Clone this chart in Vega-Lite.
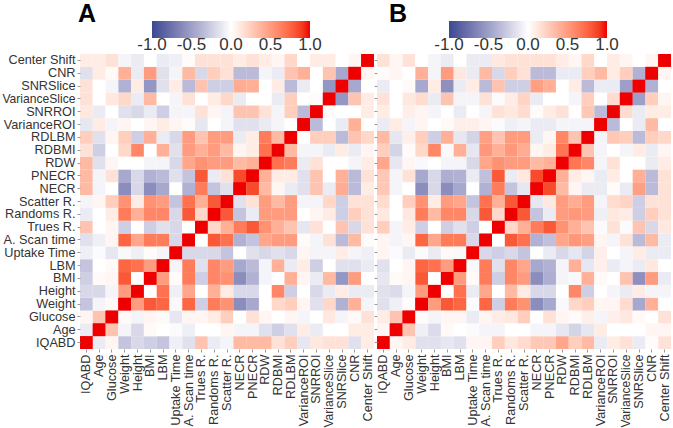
{
"$schema": "https://vega.github.io/schema/vega-lite/v6.json",
"background": "white",
"padding": {"left": 1, "top": 2, "right": 0, "bottom": 0},
"bounds": "flush",
"spacing": 3,
"config": {
  "view": {"stroke": null},
  "font": "Liberation Sans",
  "axis": {"domain": false, "labelFont": "Liberation Sans", "labelFontSize": 12.7, "labelColor": "#333333", "tickColor": "#999999", "tickSize": 3, "labelPadding": 2, "title": null},
  "legend": {"labelOverlap": false},
  "title": {"font": "Liberation Sans"}
},
"datasets": {
"A": [
{"v1":"IQABD","v2":"IQABD","r":1},
{"v1":"Age","v2":"IQABD","r":-0.1},{"v1":"Age","v2":"Age","r":1},
{"v1":"Glucose","v2":"IQABD","r":0.05},{"v1":"Glucose","v2":"Age","r":0.3},{"v1":"Glucose","v2":"Glucose","r":1},
{"v1":"Weight","v2":"IQABD","r":-0.3},{"v1":"Weight","v2":"Age","r":-0.05},{"v1":"Weight","v2":"Glucose","r":0.03},{"v1":"Weight","v2":"Weight","r":1},
{"v1":"Height","v2":"IQABD","r":-0.2},{"v1":"Height","v2":"Age","r":-0.2},{"v1":"Height","v2":"Glucose","r":-0.05},{"v1":"Height","v2":"Weight","r":0.5},{"v1":"Height","v2":"Height","r":1},
{"v1":"BMI","v2":"IQABD","r":-0.25},{"v1":"BMI","v2":"Age","r":0.03},{"v1":"BMI","v2":"Glucose","r":0.05},{"v1":"BMI","v2":"Weight","r":0.8},{"v1":"BMI","v2":"Height","r":0.0},{"v1":"BMI","v2":"BMI","r":1},
{"v1":"LBM","v2":"IQABD","r":-0.3},{"v1":"LBM","v2":"Age","r":0.0},{"v1":"LBM","v2":"Glucose","r":0.03},{"v1":"LBM","v2":"Weight","r":0.75},{"v1":"LBM","v2":"Height","r":0.7},{"v1":"LBM","v2":"BMI","r":0.5},{"v1":"LBM","v2":"LBM","r":1},
{"v1":"Uptake Time","v2":"IQABD","r":-0.08},{"v1":"Uptake Time","v2":"Age","r":-0.02},{"v1":"Uptake Time","v2":"Glucose","r":-0.12},{"v1":"Uptake Time","v2":"Weight","r":-0.03},{"v1":"Uptake Time","v2":"Height","r":-0.08},{"v1":"Uptake Time","v2":"BMI","r":0.02},{"v1":"Uptake Time","v2":"LBM","r":-0.05},{"v1":"Uptake Time","v2":"Uptake Time","r":1},
{"v1":"A. Scan time","v2":"IQABD","r":-0.15},{"v1":"A. Scan time","v2":"Age","r":-0.08},{"v1":"A. Scan time","v2":"Glucose","r":0.05},{"v1":"A. Scan time","v2":"Weight","r":0.75},{"v1":"A. Scan time","v2":"Height","r":0.45},{"v1":"A. Scan time","v2":"BMI","r":0.65},{"v1":"A. Scan time","v2":"LBM","r":0.65},{"v1":"A. Scan time","v2":"Uptake Time","r":-0.2},{"v1":"A. Scan time","v2":"A. Scan time","r":1},
{"v1":"Trues R.","v2":"IQABD","r":0.3},{"v1":"Trues R.","v2":"Age","r":0.0},{"v1":"Trues R.","v2":"Glucose","r":0.05},{"v1":"Trues R.","v2":"Weight","r":-0.25},{"v1":"Trues R.","v2":"Height","r":0.0},{"v1":"Trues R.","v2":"BMI","r":-0.25},{"v1":"Trues R.","v2":"LBM","r":-0.15},{"v1":"Trues R.","v2":"Uptake Time","r":-0.2},{"v1":"Trues R.","v2":"A. Scan time","r":0.0},{"v1":"Trues R.","v2":"Trues R.","r":1},
{"v1":"Randoms R.","v2":"IQABD","r":-0.1},{"v1":"Randoms R.","v2":"Age","r":0.0},{"v1":"Randoms R.","v2":"Glucose","r":0.1},{"v1":"Randoms R.","v2":"Weight","r":0.65},{"v1":"Randoms R.","v2":"Height","r":0.4},{"v1":"Randoms R.","v2":"BMI","r":0.6},{"v1":"Randoms R.","v2":"LBM","r":0.6},{"v1":"Randoms R.","v2":"Uptake Time","r":-0.2},{"v1":"Randoms R.","v2":"A. Scan time","r":0.8},{"v1":"Randoms R.","v2":"Trues R.","r":0.2},{"v1":"Randoms R.","v2":"Randoms R.","r":1},
{"v1":"Scatter R.","v2":"IQABD","r":-0.05},{"v1":"Scatter R.","v2":"Age","r":0.05},{"v1":"Scatter R.","v2":"Glucose","r":0.25},{"v1":"Scatter R.","v2":"Weight","r":0.55},{"v1":"Scatter R.","v2":"Height","r":0.1},{"v1":"Scatter R.","v2":"BMI","r":0.55},{"v1":"Scatter R.","v2":"LBM","r":0.5},{"v1":"Scatter R.","v2":"Uptake Time","r":-0.3},{"v1":"Scatter R.","v2":"A. Scan time","r":0.7},{"v1":"Scatter R.","v2":"Trues R.","r":0.4},{"v1":"Scatter R.","v2":"Randoms R.","r":0.8},{"v1":"Scatter R.","v2":"Scatter R.","r":1},
{"v1":"NECR","v2":"IQABD","r":0.35},{"v1":"NECR","v2":"Age","r":-0.05},{"v1":"NECR","v2":"Glucose","r":0.0},{"v1":"NECR","v2":"Weight","r":-0.6},{"v1":"NECR","v2":"Height","r":-0.2},{"v1":"NECR","v2":"BMI","r":-0.6},{"v1":"NECR","v2":"LBM","r":-0.45},{"v1":"NECR","v2":"Uptake Time","r":0.0},{"v1":"NECR","v2":"A. Scan time","r":-0.4},{"v1":"NECR","v2":"Trues R.","r":0.65},{"v1":"NECR","v2":"Randoms R.","r":-0.3},{"v1":"NECR","v2":"Scatter R.","r":-0.15},{"v1":"NECR","v2":"NECR","r":1},
{"v1":"PNECR","v2":"IQABD","r":0.35},{"v1":"PNECR","v2":"Age","r":-0.05},{"v1":"PNECR","v2":"Glucose","r":0.15},{"v1":"PNECR","v2":"Weight","r":-0.45},{"v1":"PNECR","v2":"Height","r":-0.2},{"v1":"PNECR","v2":"BMI","r":-0.4},{"v1":"PNECR","v2":"LBM","r":-0.35},{"v1":"PNECR","v2":"Uptake Time","r":-0.15},{"v1":"PNECR","v2":"A. Scan time","r":-0.3},{"v1":"PNECR","v2":"Trues R.","r":0.8},{"v1":"PNECR","v2":"Randoms R.","r":-0.1},{"v1":"PNECR","v2":"Scatter R.","r":0.15},{"v1":"PNECR","v2":"NECR","r":0.85},{"v1":"PNECR","v2":"PNECR","r":1},
{"v1":"RDW","v2":"IQABD","r":0.35},{"v1":"RDW","v2":"Age","r":-0.15},{"v1":"RDW","v2":"Glucose","r":0.05},{"v1":"RDW","v2":"Weight","r":0.0},{"v1":"RDW","v2":"Height","r":0.0},{"v1":"RDW","v2":"BMI","r":-0.05},{"v1":"RDW","v2":"LBM","r":-0.05},{"v1":"RDW","v2":"Uptake Time","r":-0.2},{"v1":"RDW","v2":"A. Scan time","r":0.45},{"v1":"RDW","v2":"Trues R.","r":0.55},{"v1":"RDW","v2":"Randoms R.","r":0.5},{"v1":"RDW","v2":"Scatter R.","r":0.5},{"v1":"RDW","v2":"NECR","r":0.35},{"v1":"RDW","v2":"PNECR","r":0.4},{"v1":"RDW","v2":"RDW","r":1},
{"v1":"RDBMI","v2":"IQABD","r":0.15},{"v1":"RDBMI","v2":"Age","r":-0.25},{"v1":"RDBMI","v2":"Glucose","r":0.0},{"v1":"RDBMI","v2":"Weight","r":0.2},{"v1":"RDBMI","v2":"Height","r":0.6},{"v1":"RDBMI","v2":"BMI","r":0.0},{"v1":"RDBMI","v2":"LBM","r":0.4},{"v1":"RDBMI","v2":"Uptake Time","r":-0.15},{"v1":"RDBMI","v2":"A. Scan time","r":0.5},{"v1":"RDBMI","v2":"Trues R.","r":0.4},{"v1":"RDBMI","v2":"Randoms R.","r":0.5},{"v1":"RDBMI","v2":"Scatter R.","r":0.35},{"v1":"RDBMI","v2":"NECR","r":0.05},{"v1":"RDBMI","v2":"PNECR","r":0.1},{"v1":"RDBMI","v2":"RDW","r":0.7},{"v1":"RDBMI","v2":"RDBMI","r":1},
{"v1":"RDLBM","v2":"IQABD","r":0.25},{"v1":"RDLBM","v2":"Age","r":-0.15},{"v1":"RDLBM","v2":"Glucose","r":0.05},{"v1":"RDLBM","v2":"Weight","r":0.25},{"v1":"RDLBM","v2":"Height","r":-0.25},{"v1":"RDLBM","v2":"BMI","r":0.4},{"v1":"RDLBM","v2":"LBM","r":-0.1},{"v1":"RDLBM","v2":"Uptake Time","r":-0.2},{"v1":"RDLBM","v2":"A. Scan time","r":0.5},{"v1":"RDLBM","v2":"Trues R.","r":0.3},{"v1":"RDLBM","v2":"Randoms R.","r":0.5},{"v1":"RDLBM","v2":"Scatter R.","r":0.5},{"v1":"RDLBM","v2":"NECR","r":-0.1},{"v1":"RDLBM","v2":"PNECR","r":0.1},{"v1":"RDLBM","v2":"RDW","r":0.65},{"v1":"RDLBM","v2":"RDBMI","r":0.35},{"v1":"RDLBM","v2":"RDLBM","r":1},
{"v1":"VarianceROI","v2":"IQABD","r":-0.12},{"v1":"VarianceROI","v2":"Age","r":0.1},{"v1":"VarianceROI","v2":"Glucose","r":-0.05},{"v1":"VarianceROI","v2":"Weight","r":0.05},{"v1":"VarianceROI","v2":"Height","r":0.0},{"v1":"VarianceROI","v2":"BMI","r":0.05},{"v1":"VarianceROI","v2":"LBM","r":0.1},{"v1":"VarianceROI","v2":"Uptake Time","r":0.05},{"v1":"VarianceROI","v2":"A. Scan time","r":0.02},{"v1":"VarianceROI","v2":"Trues R.","r":-0.12},{"v1":"VarianceROI","v2":"Randoms R.","r":0.0},{"v1":"VarianceROI","v2":"Scatter R.","r":-0.05},{"v1":"VarianceROI","v2":"NECR","r":-0.15},{"v1":"VarianceROI","v2":"PNECR","r":-0.15},{"v1":"VarianceROI","v2":"RDW","r":-0.1},{"v1":"VarianceROI","v2":"RDBMI","r":-0.05},{"v1":"VarianceROI","v2":"RDLBM","r":0.0},{"v1":"VarianceROI","v2":"VarianceROI","r":1},
{"v1":"SNRROI","v2":"IQABD","r":0.12},{"v1":"SNRROI","v2":"Age","r":-0.1},{"v1":"SNRROI","v2":"Glucose","r":0.0},{"v1":"SNRROI","v2":"Weight","r":-0.15},{"v1":"SNRROI","v2":"Height","r":-0.2},{"v1":"SNRROI","v2":"BMI","r":-0.1},{"v1":"SNRROI","v2":"LBM","r":-0.25},{"v1":"SNRROI","v2":"Uptake Time","r":-0.05},{"v1":"SNRROI","v2":"A. Scan time","r":-0.05},{"v1":"SNRROI","v2":"Trues R.","r":0.15},{"v1":"SNRROI","v2":"Randoms R.","r":0.05},{"v1":"SNRROI","v2":"Scatter R.","r":-0.05},{"v1":"SNRROI","v2":"NECR","r":0.3},{"v1":"SNRROI","v2":"PNECR","r":0.3},{"v1":"SNRROI","v2":"RDW","r":0.15},{"v1":"SNRROI","v2":"RDBMI","r":-0.05},{"v1":"SNRROI","v2":"RDLBM","r":0.25},{"v1":"SNRROI","v2":"VarianceROI","r":-0.35},{"v1":"SNRROI","v2":"SNRROI","r":1},
{"v1":"VarianceSlice","v2":"IQABD","r":0.15},{"v1":"VarianceSlice","v2":"Age","r":0.0},{"v1":"VarianceSlice","v2":"Glucose","r":0.12},{"v1":"VarianceSlice","v2":"Weight","r":0.2},{"v1":"VarianceSlice","v2":"Height","r":-0.1},{"v1":"VarianceSlice","v2":"BMI","r":0.35},{"v1":"VarianceSlice","v2":"LBM","r":0.0},{"v1":"VarianceSlice","v2":"Uptake Time","r":-0.05},{"v1":"VarianceSlice","v2":"A. Scan time","r":0.15},{"v1":"VarianceSlice","v2":"Trues R.","r":0.0},{"v1":"VarianceSlice","v2":"Randoms R.","r":0.1},{"v1":"VarianceSlice","v2":"Scatter R.","r":0.2},{"v1":"VarianceSlice","v2":"NECR","r":-0.1},{"v1":"VarianceSlice","v2":"PNECR","r":0.0},{"v1":"VarianceSlice","v2":"RDW","r":0.0},{"v1":"VarianceSlice","v2":"RDBMI","r":-0.1},{"v1":"VarianceSlice","v2":"RDLBM","r":0.25},{"v1":"VarianceSlice","v2":"VarianceROI","r":0.0},{"v1":"VarianceSlice","v2":"SNRROI","r":0.02},{"v1":"VarianceSlice","v2":"VarianceSlice","r":1},
{"v1":"SNRSlice","v2":"IQABD","r":0.15},{"v1":"SNRSlice","v2":"Age","r":0.0},{"v1":"SNRSlice","v2":"Glucose","r":-0.05},{"v1":"SNRSlice","v2":"Weight","r":-0.4},{"v1":"SNRSlice","v2":"Height","r":0.1},{"v1":"SNRSlice","v2":"BMI","r":-0.55},{"v1":"SNRSlice","v2":"LBM","r":-0.15},{"v1":"SNRSlice","v2":"Uptake Time","r":0.1},{"v1":"SNRSlice","v2":"A. Scan time","r":-0.35},{"v1":"SNRSlice","v2":"Trues R.","r":0.3},{"v1":"SNRSlice","v2":"Randoms R.","r":-0.25},{"v1":"SNRSlice","v2":"Scatter R.","r":-0.25},{"v1":"SNRSlice","v2":"NECR","r":0.42},{"v1":"SNRSlice","v2":"PNECR","r":0.4},{"v1":"SNRSlice","v2":"RDW","r":0.0},{"v1":"SNRSlice","v2":"RDBMI","r":0.1},{"v1":"SNRSlice","v2":"RDLBM","r":-0.35},{"v1":"SNRSlice","v2":"VarianceROI","r":-0.1},{"v1":"SNRSlice","v2":"SNRROI","r":0.0},{"v1":"SNRSlice","v2":"VarianceSlice","r":-0.55},{"v1":"SNRSlice","v2":"SNRSlice","r":1},
{"v1":"CNR","v2":"IQABD","r":-0.15},{"v1":"CNR","v2":"Age","r":0.1},{"v1":"CNR","v2":"Glucose","r":0.03},{"v1":"CNR","v2":"Weight","r":0.4},{"v1":"CNR","v2":"Height","r":-0.1},{"v1":"CNR","v2":"BMI","r":0.5},{"v1":"CNR","v2":"LBM","r":-0.15},{"v1":"CNR","v2":"Uptake Time","r":-0.05},{"v1":"CNR","v2":"A. Scan time","r":0.35},{"v1":"CNR","v2":"Trues R.","r":-0.2},{"v1":"CNR","v2":"Randoms R.","r":0.25},{"v1":"CNR","v2":"Scatter R.","r":0.15},{"v1":"CNR","v2":"NECR","r":-0.35},{"v1":"CNR","v2":"PNECR","r":-0.35},{"v1":"CNR","v2":"RDW","r":-0.05},{"v1":"CNR","v2":"RDBMI","r":-0.1},{"v1":"CNR","v2":"RDLBM","r":0.3},{"v1":"CNR","v2":"VarianceROI","r":0.4},{"v1":"CNR","v2":"SNRROI","r":0.0},{"v1":"CNR","v2":"VarianceSlice","r":0.3},{"v1":"CNR","v2":"SNRSlice","r":-0.45},{"v1":"CNR","v2":"CNR","r":1},
{"v1":"Center Shift","v2":"IQABD","r":0.1},{"v1":"Center Shift","v2":"Age","r":0.1},{"v1":"Center Shift","v2":"Glucose","r":0.15},{"v1":"Center Shift","v2":"Weight","r":-0.05},{"v1":"Center Shift","v2":"Height","r":-0.1},{"v1":"Center Shift","v2":"BMI","r":0.0},{"v1":"Center Shift","v2":"LBM","r":-0.1},{"v1":"Center Shift","v2":"Uptake Time","r":-0.08},{"v1":"Center Shift","v2":"A. Scan time","r":0.02},{"v1":"Center Shift","v2":"Trues R.","r":0.15},{"v1":"Center Shift","v2":"Randoms R.","r":0.15},{"v1":"Center Shift","v2":"Scatter R.","r":0.15},{"v1":"Center Shift","v2":"NECR","r":0.1},{"v1":"Center Shift","v2":"PNECR","r":0.15},{"v1":"Center Shift","v2":"RDW","r":0.1},{"v1":"Center Shift","v2":"RDBMI","r":0.05},{"v1":"Center Shift","v2":"RDLBM","r":0.2},{"v1":"Center Shift","v2":"VarianceROI","r":0.0},{"v1":"Center Shift","v2":"SNRROI","r":0.1},{"v1":"Center Shift","v2":"VarianceSlice","r":0.1},{"v1":"Center Shift","v2":"SNRSlice","r":0.0},{"v1":"Center Shift","v2":"CNR","r":0.05},{"v1":"Center Shift","v2":"Center Shift","r":1}
],
"B": [
{"v1":"IQABD","v2":"IQABD","r":1},
{"v1":"Age","v2":"IQABD","r":0.05},{"v1":"Age","v2":"Age","r":1},
{"v1":"Glucose","v2":"IQABD","r":0.1},{"v1":"Glucose","v2":"Age","r":0.3},{"v1":"Glucose","v2":"Glucose","r":1},
{"v1":"Weight","v2":"IQABD","r":-0.15},{"v1":"Weight","v2":"Age","r":-0.08},{"v1":"Weight","v2":"Glucose","r":0.02},{"v1":"Weight","v2":"Weight","r":1},
{"v1":"Height","v2":"IQABD","r":-0.15},{"v1":"Height","v2":"Age","r":-0.18},{"v1":"Height","v2":"Glucose","r":-0.05},{"v1":"Height","v2":"Weight","r":0.5},{"v1":"Height","v2":"Height","r":1},
{"v1":"BMI","v2":"IQABD","r":-0.12},{"v1":"BMI","v2":"Age","r":0.03},{"v1":"BMI","v2":"Glucose","r":0.05},{"v1":"BMI","v2":"Weight","r":0.8},{"v1":"BMI","v2":"Height","r":0.0},{"v1":"BMI","v2":"BMI","r":1},
{"v1":"LBM","v2":"IQABD","r":-0.15},{"v1":"LBM","v2":"Age","r":0.0},{"v1":"LBM","v2":"Glucose","r":0.05},{"v1":"LBM","v2":"Weight","r":0.75},{"v1":"LBM","v2":"Height","r":0.7},{"v1":"LBM","v2":"BMI","r":0.5},{"v1":"LBM","v2":"LBM","r":1},
{"v1":"Uptake Time","v2":"IQABD","r":0.05},{"v1":"Uptake Time","v2":"Age","r":-0.02},{"v1":"Uptake Time","v2":"Glucose","r":-0.1},{"v1":"Uptake Time","v2":"Weight","r":-0.02},{"v1":"Uptake Time","v2":"Height","r":-0.1},{"v1":"Uptake Time","v2":"BMI","r":0.03},{"v1":"Uptake Time","v2":"LBM","r":-0.03},{"v1":"Uptake Time","v2":"Uptake Time","r":1},
{"v1":"A. Scan time","v2":"IQABD","r":0.05},{"v1":"A. Scan time","v2":"Age","r":-0.05},{"v1":"A. Scan time","v2":"Glucose","r":0.05},{"v1":"A. Scan time","v2":"Weight","r":0.75},{"v1":"A. Scan time","v2":"Height","r":0.45},{"v1":"A. Scan time","v2":"BMI","r":0.65},{"v1":"A. Scan time","v2":"LBM","r":0.65},{"v1":"A. Scan time","v2":"Uptake Time","r":-0.2},{"v1":"A. Scan time","v2":"A. Scan time","r":1},
{"v1":"Trues R.","v2":"IQABD","r":0.25},{"v1":"Trues R.","v2":"Age","r":-0.05},{"v1":"Trues R.","v2":"Glucose","r":0.1},{"v1":"Trues R.","v2":"Weight","r":-0.25},{"v1":"Trues R.","v2":"Height","r":0.0},{"v1":"Trues R.","v2":"BMI","r":-0.25},{"v1":"Trues R.","v2":"LBM","r":-0.15},{"v1":"Trues R.","v2":"Uptake Time","r":-0.25},{"v1":"Trues R.","v2":"A. Scan time","r":0.0},{"v1":"Trues R.","v2":"Trues R.","r":1},
{"v1":"Randoms R.","v2":"IQABD","r":0.12},{"v1":"Randoms R.","v2":"Age","r":0.0},{"v1":"Randoms R.","v2":"Glucose","r":0.12},{"v1":"Randoms R.","v2":"Weight","r":0.65},{"v1":"Randoms R.","v2":"Height","r":0.35},{"v1":"Randoms R.","v2":"BMI","r":0.6},{"v1":"Randoms R.","v2":"LBM","r":0.6},{"v1":"Randoms R.","v2":"Uptake Time","r":-0.2},{"v1":"Randoms R.","v2":"A. Scan time","r":0.8},{"v1":"Randoms R.","v2":"Trues R.","r":0.2},{"v1":"Randoms R.","v2":"Randoms R.","r":1},
{"v1":"Scatter R.","v2":"IQABD","r":0.18},{"v1":"Scatter R.","v2":"Age","r":0.0},{"v1":"Scatter R.","v2":"Glucose","r":0.25},{"v1":"Scatter R.","v2":"Weight","r":0.55},{"v1":"Scatter R.","v2":"Height","r":0.1},{"v1":"Scatter R.","v2":"BMI","r":0.5},{"v1":"Scatter R.","v2":"LBM","r":0.45},{"v1":"Scatter R.","v2":"Uptake Time","r":-0.3},{"v1":"Scatter R.","v2":"A. Scan time","r":0.7},{"v1":"Scatter R.","v2":"Trues R.","r":0.4},{"v1":"Scatter R.","v2":"Randoms R.","r":0.8},{"v1":"Scatter R.","v2":"Scatter R.","r":1},
{"v1":"NECR","v2":"IQABD","r":0.28},{"v1":"NECR","v2":"Age","r":-0.05},{"v1":"NECR","v2":"Glucose","r":0.0},{"v1":"NECR","v2":"Weight","r":-0.6},{"v1":"NECR","v2":"Height","r":-0.2},{"v1":"NECR","v2":"BMI","r":-0.6},{"v1":"NECR","v2":"LBM","r":-0.45},{"v1":"NECR","v2":"Uptake Time","r":0.0},{"v1":"NECR","v2":"A. Scan time","r":-0.4},{"v1":"NECR","v2":"Trues R.","r":0.65},{"v1":"NECR","v2":"Randoms R.","r":-0.3},{"v1":"NECR","v2":"Scatter R.","r":-0.12},{"v1":"NECR","v2":"NECR","r":1},
{"v1":"PNECR","v2":"IQABD","r":0.28},{"v1":"PNECR","v2":"Age","r":-0.05},{"v1":"PNECR","v2":"Glucose","r":0.15},{"v1":"PNECR","v2":"Weight","r":-0.45},{"v1":"PNECR","v2":"Height","r":-0.2},{"v1":"PNECR","v2":"BMI","r":-0.42},{"v1":"PNECR","v2":"LBM","r":-0.4},{"v1":"PNECR","v2":"Uptake Time","r":-0.1},{"v1":"PNECR","v2":"A. Scan time","r":-0.32},{"v1":"PNECR","v2":"Trues R.","r":0.8},{"v1":"PNECR","v2":"Randoms R.","r":-0.1},{"v1":"PNECR","v2":"Scatter R.","r":0.12},{"v1":"PNECR","v2":"NECR","r":0.85},{"v1":"PNECR","v2":"PNECR","r":1},
{"v1":"RDW","v2":"IQABD","r":0.45},{"v1":"RDW","v2":"Age","r":-0.12},{"v1":"RDW","v2":"Glucose","r":0.05},{"v1":"RDW","v2":"Weight","r":-0.03},{"v1":"RDW","v2":"Height","r":0.0},{"v1":"RDW","v2":"BMI","r":-0.05},{"v1":"RDW","v2":"LBM","r":-0.05},{"v1":"RDW","v2":"Uptake Time","r":-0.2},{"v1":"RDW","v2":"A. Scan time","r":0.45},{"v1":"RDW","v2":"Trues R.","r":0.55},{"v1":"RDW","v2":"Randoms R.","r":0.5},{"v1":"RDW","v2":"Scatter R.","r":0.5},{"v1":"RDW","v2":"NECR","r":0.35},{"v1":"RDW","v2":"PNECR","r":0.4},{"v1":"RDW","v2":"RDW","r":1},
{"v1":"RDBMI","v2":"IQABD","r":0.25},{"v1":"RDBMI","v2":"Age","r":-0.22},{"v1":"RDBMI","v2":"Glucose","r":0.02},{"v1":"RDBMI","v2":"Weight","r":0.2},{"v1":"RDBMI","v2":"Height","r":0.6},{"v1":"RDBMI","v2":"BMI","r":-0.03},{"v1":"RDBMI","v2":"LBM","r":0.4},{"v1":"RDBMI","v2":"Uptake Time","r":-0.12},{"v1":"RDBMI","v2":"A. Scan time","r":0.52},{"v1":"RDBMI","v2":"Trues R.","r":0.4},{"v1":"RDBMI","v2":"Randoms R.","r":0.52},{"v1":"RDBMI","v2":"Scatter R.","r":0.42},{"v1":"RDBMI","v2":"NECR","r":0.05},{"v1":"RDBMI","v2":"PNECR","r":0.1},{"v1":"RDBMI","v2":"RDW","r":0.68},{"v1":"RDBMI","v2":"RDBMI","r":1},
{"v1":"RDLBM","v2":"IQABD","r":0.35},{"v1":"RDLBM","v2":"Age","r":-0.12},{"v1":"RDLBM","v2":"Glucose","r":0.08},{"v1":"RDLBM","v2":"Weight","r":0.25},{"v1":"RDLBM","v2":"Height","r":-0.25},{"v1":"RDLBM","v2":"BMI","r":0.4},{"v1":"RDLBM","v2":"LBM","r":-0.12},{"v1":"RDLBM","v2":"Uptake Time","r":-0.22},{"v1":"RDLBM","v2":"A. Scan time","r":0.48},{"v1":"RDLBM","v2":"Trues R.","r":0.3},{"v1":"RDLBM","v2":"Randoms R.","r":0.5},{"v1":"RDLBM","v2":"Scatter R.","r":0.5},{"v1":"RDLBM","v2":"NECR","r":-0.1},{"v1":"RDLBM","v2":"PNECR","r":0.05},{"v1":"RDLBM","v2":"RDW","r":0.6},{"v1":"RDLBM","v2":"RDBMI","r":0.3},{"v1":"RDLBM","v2":"RDLBM","r":1},
{"v1":"VarianceROI","v2":"IQABD","r":-0.1},{"v1":"VarianceROI","v2":"Age","r":0.1},{"v1":"VarianceROI","v2":"Glucose","r":-0.05},{"v1":"VarianceROI","v2":"Weight","r":0.05},{"v1":"VarianceROI","v2":"Height","r":0.0},{"v1":"VarianceROI","v2":"BMI","r":0.03},{"v1":"VarianceROI","v2":"LBM","r":0.08},{"v1":"VarianceROI","v2":"Uptake Time","r":0.08},{"v1":"VarianceROI","v2":"A. Scan time","r":0.05},{"v1":"VarianceROI","v2":"Trues R.","r":-0.02},{"v1":"VarianceROI","v2":"Randoms R.","r":-0.08},{"v1":"VarianceROI","v2":"Scatter R.","r":-0.05},{"v1":"VarianceROI","v2":"NECR","r":-0.1},{"v1":"VarianceROI","v2":"PNECR","r":-0.1},{"v1":"VarianceROI","v2":"RDW","r":-0.05},{"v1":"VarianceROI","v2":"RDBMI","r":-0.05},{"v1":"VarianceROI","v2":"RDLBM","r":-0.05},{"v1":"VarianceROI","v2":"VarianceROI","r":1},
{"v1":"SNRROI","v2":"IQABD","r":0.1},{"v1":"SNRROI","v2":"Age","r":0.0},{"v1":"SNRROI","v2":"Glucose","r":0.08},{"v1":"SNRROI","v2":"Weight","r":0.05},{"v1":"SNRROI","v2":"Height","r":-0.05},{"v1":"SNRROI","v2":"BMI","r":0.0},{"v1":"SNRROI","v2":"LBM","r":-0.1},{"v1":"SNRROI","v2":"Uptake Time","r":0.0},{"v1":"SNRROI","v2":"A. Scan time","r":-0.05},{"v1":"SNRROI","v2":"Trues R.","r":0.15},{"v1":"SNRROI","v2":"Randoms R.","r":0.12},{"v1":"SNRROI","v2":"Scatter R.","r":0.18},{"v1":"SNRROI","v2":"NECR","r":0.02},{"v1":"SNRROI","v2":"PNECR","r":0.1},{"v1":"SNRROI","v2":"RDW","r":0.15},{"v1":"SNRROI","v2":"RDBMI","r":0.0},{"v1":"SNRROI","v2":"RDLBM","r":0.28},{"v1":"SNRROI","v2":"VarianceROI","r":-0.35},{"v1":"SNRROI","v2":"SNRROI","r":1},
{"v1":"VarianceSlice","v2":"IQABD","r":0.15},{"v1":"VarianceSlice","v2":"Age","r":0.0},{"v1":"VarianceSlice","v2":"Glucose","r":0.12},{"v1":"VarianceSlice","v2":"Weight","r":0.18},{"v1":"VarianceSlice","v2":"Height","r":-0.1},{"v1":"VarianceSlice","v2":"BMI","r":0.3},{"v1":"VarianceSlice","v2":"LBM","r":-0.05},{"v1":"VarianceSlice","v2":"Uptake Time","r":-0.05},{"v1":"VarianceSlice","v2":"A. Scan time","r":0.15},{"v1":"VarianceSlice","v2":"Trues R.","r":-0.02},{"v1":"VarianceSlice","v2":"Randoms R.","r":0.1},{"v1":"VarianceSlice","v2":"Scatter R.","r":0.22},{"v1":"VarianceSlice","v2":"NECR","r":-0.1},{"v1":"VarianceSlice","v2":"PNECR","r":0.0},{"v1":"VarianceSlice","v2":"RDW","r":0.0},{"v1":"VarianceSlice","v2":"RDBMI","r":-0.05},{"v1":"VarianceSlice","v2":"RDLBM","r":0.25},{"v1":"VarianceSlice","v2":"VarianceROI","r":0.0},{"v1":"VarianceSlice","v2":"SNRROI","r":0.18},{"v1":"VarianceSlice","v2":"VarianceSlice","r":1},
{"v1":"SNRSlice","v2":"IQABD","r":-0.1},{"v1":"SNRSlice","v2":"Age","r":0.0},{"v1":"SNRSlice","v2":"Glucose","r":0.03},{"v1":"SNRSlice","v2":"Weight","r":-0.45},{"v1":"SNRSlice","v2":"Height","r":0.1},{"v1":"SNRSlice","v2":"BMI","r":-0.58},{"v1":"SNRSlice","v2":"LBM","r":-0.1},{"v1":"SNRSlice","v2":"Uptake Time","r":0.1},{"v1":"SNRSlice","v2":"A. Scan time","r":-0.35},{"v1":"SNRSlice","v2":"Trues R.","r":0.3},{"v1":"SNRSlice","v2":"Randoms R.","r":-0.25},{"v1":"SNRSlice","v2":"Scatter R.","r":-0.25},{"v1":"SNRSlice","v2":"NECR","r":0.48},{"v1":"SNRSlice","v2":"PNECR","r":0.4},{"v1":"SNRSlice","v2":"RDW","r":0.0},{"v1":"SNRSlice","v2":"RDBMI","r":0.1},{"v1":"SNRSlice","v2":"RDLBM","r":-0.35},{"v1":"SNRSlice","v2":"VarianceROI","r":-0.1},{"v1":"SNRSlice","v2":"SNRROI","r":-0.1},{"v1":"SNRSlice","v2":"VarianceSlice","r":-0.5},{"v1":"SNRSlice","v2":"SNRSlice","r":1},
{"v1":"CNR","v2":"IQABD","r":0.02},{"v1":"CNR","v2":"Age","r":0.05},{"v1":"CNR","v2":"Glucose","r":0.0},{"v1":"CNR","v2":"Weight","r":0.4},{"v1":"CNR","v2":"Height","r":-0.05},{"v1":"CNR","v2":"BMI","r":0.5},{"v1":"CNR","v2":"LBM","r":0.12},{"v1":"CNR","v2":"Uptake Time","r":-0.1},{"v1":"CNR","v2":"A. Scan time","r":0.35},{"v1":"CNR","v2":"Trues R.","r":-0.2},{"v1":"CNR","v2":"Randoms R.","r":0.25},{"v1":"CNR","v2":"Scatter R.","r":0.15},{"v1":"CNR","v2":"NECR","r":-0.35},{"v1":"CNR","v2":"PNECR","r":-0.35},{"v1":"CNR","v2":"RDW","r":-0.1},{"v1":"CNR","v2":"RDBMI","r":-0.1},{"v1":"CNR","v2":"RDLBM","r":0.25},{"v1":"CNR","v2":"VarianceROI","r":0.35},{"v1":"CNR","v2":"SNRROI","r":0.1},{"v1":"CNR","v2":"VarianceSlice","r":0.25},{"v1":"CNR","v2":"SNRSlice","r":-0.4},{"v1":"CNR","v2":"CNR","r":1},
{"v1":"Center Shift","v2":"IQABD","r":0.15},{"v1":"Center Shift","v2":"Age","r":0.05},{"v1":"Center Shift","v2":"Glucose","r":0.15},{"v1":"Center Shift","v2":"Weight","r":0.0},{"v1":"Center Shift","v2":"Height","r":-0.05},{"v1":"Center Shift","v2":"BMI","r":-0.1},{"v1":"Center Shift","v2":"LBM","r":0.0},{"v1":"Center Shift","v2":"Uptake Time","r":-0.1},{"v1":"Center Shift","v2":"A. Scan time","r":-0.1},{"v1":"Center Shift","v2":"Trues R.","r":0.12},{"v1":"Center Shift","v2":"Randoms R.","r":0.15},{"v1":"Center Shift","v2":"Scatter R.","r":0.15},{"v1":"Center Shift","v2":"NECR","r":0.15},{"v1":"Center Shift","v2":"PNECR","r":0.15},{"v1":"Center Shift","v2":"RDW","r":0.1},{"v1":"Center Shift","v2":"RDBMI","r":0.05},{"v1":"Center Shift","v2":"RDLBM","r":0.2},{"v1":"Center Shift","v2":"VarianceROI","r":0.0},{"v1":"Center Shift","v2":"SNRROI","r":0.1},{"v1":"Center Shift","v2":"VarianceSlice","r":0.05},{"v1":"Center Shift","v2":"SNRSlice","r":0.0},{"v1":"Center Shift","v2":"CNR","r":0.05},{"v1":"Center Shift","v2":"Center Shift","r":1}
]
},
"hconcat": [
{
  "width": 294, "height": 295,
  "data": {"name": "A"},
  "title": {"text": "A", "anchor": "start", "frame": "group", "dx": -2, "fontSize": 25, "fontWeight": "bold", "color": "#000000", "offset": -6},
  "layer": [
    {"mark": {"type": "rect"},
     "encoding": {
       "x": {"field": "v2", "type": "nominal", "title": null, "scale": {"domain": ["IQABD","Age","Glucose","Weight","Height","BMI","LBM","Uptake Time","A. Scan time","Trues R.","Randoms R.","Scatter R.","NECR","PNECR","RDW","RDBMI","RDLBM","VarianceROI","SNRROI","VarianceSlice","SNRSlice","CNR","Center Shift"]}, "axis": {"labelAngle": -90, "labelFontSize": {"condition": {"test": "datum.value == 'VarianceSlice'", "value": 12.1}, "value": 12.7}}},
       "y": {"field": "v1", "type": "nominal", "title": null, "scale": {"domain": ["Center Shift","CNR","SNRSlice","VarianceSlice","SNRROI","VarianceROI","RDLBM","RDBMI","RDW","PNECR","NECR","Scatter R.","Randoms R.","Trues R.","A. Scan time","Uptake Time","LBM","BMI","Height","Weight","Glucose","Age","IQABD"]}, "axis": {"labelFontSize": {"condition": {"test": "datum.value == 'VarianceSlice'", "value": 12.1}, "value": 12.7}}},
       "color": {"field": "r", "type": "quantitative", "scale": {"domain": [-1, 0, 1], "range": ["#3B4992", "#FFFFFF", "#EE0000"], "interpolate": "lab"},
         "legend": {"orient": "none", "legendX": 72, "legendY": -33, "direction": "horizontal", "title": null, "gradientLength": 158, "gradientThickness": 17, "gradientStrokeWidth": 0, "padding": 0, "values": [-1, -0.5, 0, 0.5, 1], "labelOverlap": false, "labelExpr": "datum.value < 0 ? '-' + format(-datum.value, '.1f') : format(datum.value, '.1f')", "labelFontSize": 17, "labelColor": "#333333", "labelOffset": -1, "encode": {"labels": {"update": {"align": {"value": "center"}}}}}}
     }},
    {"mark": {"type": "rect"},
     "encoding": {
       "x": {"field": "v1", "type": "nominal", "title": null},
       "y": {"field": "v2", "type": "nominal", "title": null},
       "color": {"field": "r", "type": "quantitative"}
     }}
  ]
},
{
  "width": 294, "height": 295,
  "data": {"name": "B"},
  "title": {"text": "B", "anchor": "start", "frame": "group", "dx": 12, "fontSize": 25, "fontWeight": "bold", "color": "#000000", "offset": -6},
  "layer": [
    {"mark": {"type": "rect"},
     "encoding": {
       "x": {"field": "v2", "type": "nominal", "title": null, "scale": {"domain": ["IQABD","Age","Glucose","Weight","Height","BMI","LBM","Uptake Time","A. Scan time","Trues R.","Randoms R.","Scatter R.","NECR","PNECR","RDW","RDBMI","RDLBM","VarianceROI","SNRROI","VarianceSlice","SNRSlice","CNR","Center Shift"]}, "axis": {"labelAngle": -90, "labelFontSize": {"condition": {"test": "datum.value == 'VarianceSlice'", "value": 12.1}, "value": 12.7}}},
       "y": {"field": "v1", "type": "nominal", "title": null, "scale": {"domain": ["Center Shift","CNR","SNRSlice","VarianceSlice","SNRROI","VarianceROI","RDLBM","RDBMI","RDW","PNECR","NECR","Scatter R.","Randoms R.","Trues R.","A. Scan time","Uptake Time","LBM","BMI","Height","Weight","Glucose","Age","IQABD"]}, "axis": {"labels": false}},
       "color": {"field": "r", "type": "quantitative", "scale": {"domain": [-1, 0, 1], "range": ["#3B4992", "#FFFFFF", "#EE0000"], "interpolate": "lab"},
         "legend": {"orient": "none", "legendX": 72, "legendY": -33, "direction": "horizontal", "title": null, "gradientLength": 158, "gradientThickness": 17, "gradientStrokeWidth": 0, "padding": 0, "values": [-1, -0.5, 0, 0.5, 1], "labelOverlap": false, "labelExpr": "datum.value < 0 ? '-' + format(-datum.value, '.1f') : format(datum.value, '.1f')", "labelFontSize": 17, "labelColor": "#333333", "labelOffset": -1, "encode": {"labels": {"update": {"align": {"value": "center"}}}}}}
     }},
    {"mark": {"type": "rect"},
     "encoding": {
       "x": {"field": "v1", "type": "nominal", "title": null},
       "y": {"field": "v2", "type": "nominal", "title": null},
       "color": {"field": "r", "type": "quantitative"}
     }}
  ]
}
],
"resolve": {"scale": {"color": "independent"}}
}
